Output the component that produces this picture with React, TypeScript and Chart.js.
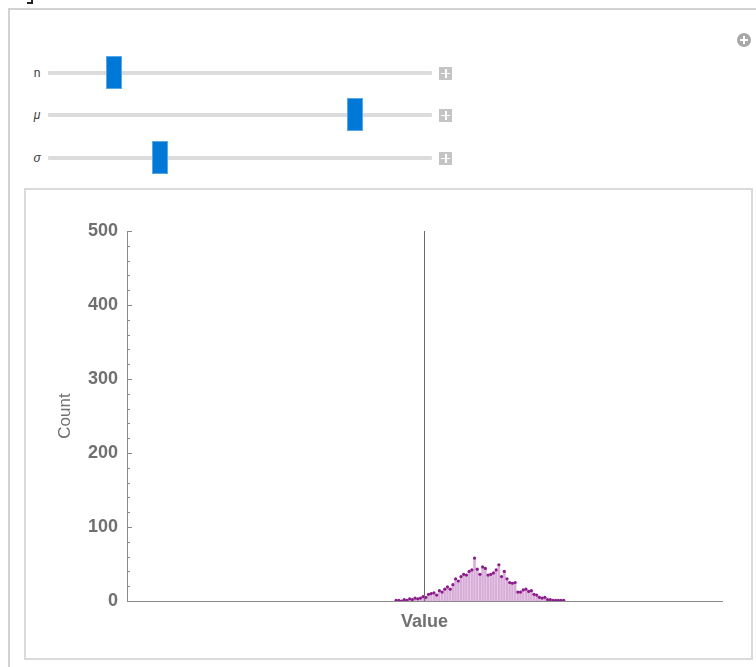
import React, { useEffect, useRef } from "react";
import { Chart, registerables } from "chart.js";

Chart.register(...registerables);

// Histogram bin centers (value axis) and counts
const binCenters: number[] = [
  -1.05, -0.95, -0.85, -0.75, -0.65, -0.55, -0.45, -0.35, -0.25, -0.15,
  -0.05, 0.05, 0.15, 0.25, 0.35, 0.45, 0.55, 0.65, 0.75, 0.85,
  0.95, 1.05, 1.15, 1.25, 1.35, 1.45, 1.55, 1.65, 1.75, 1.85,
  1.95, 2.05, 2.15, 2.25, 2.35, 2.45, 2.55, 2.65, 2.75, 2.85,
  2.95, 3.05, 3.15, 3.25, 3.35, 3.45, 3.55, 3.65, 3.75, 3.85,
  3.95, 4.05, 4.15, 4.25, 4.35, 4.45, 4.55, 4.65, 4.75, 4.85,
  4.95, 5.05, 5.15,
];
const binCounts: number[] = [
  1, 1, 0, 2, 1, 3, 2, 4, 3, 4,
  6, 5, 9, 10, 11, 8, 14, 12, 16, 19,
  16, 22, 30, 27, 33, 36, 35, 40, 42, 58,
  43, 36, 46, 44, 35, 36, 38, 42, 49, 33,
  40, 30, 25, 24, 25, 12, 12, 15, 16, 13,
  14, 9, 8, 5, 4, 5, 2, 2, 1, 1,
  1, 1, 1,
];
const yTicks: number[] = [0, 100, 200, 300, 400, 500];
const xRange: number[] = [-10, 10];
const sliderNames: string[] = ["n", "μ", "σ"];
const sliderPositions: number[] = [0.159, 0.811, 0.284];

const GRAY_TEXT = "#707070";
const AXIS = "#8a8a8a";

const inwardTicks = {
  id: "inwardTicks",
  afterDraw(chart: any) {
    const ys = chart.scales.y;
    const ctx = chart.ctx;
    const left = chart.chartArea.left;
    ctx.save();
    ctx.strokeStyle = AXIS;
    ctx.lineWidth = 1;
    for (let v = 0; v <= 500; v += 20) {
      const y = Math.round(ys.getPixelForValue(v)) + 0.5;
      const len = v % 100 === 0 ? 5 : 3;
      ctx.beginPath();
      ctx.moveTo(left, y);
      ctx.lineTo(left + len, y);
      ctx.stroke();
    }
    ctx.restore();
  },
};

function HistChart() {
  const ref = useRef<HTMLCanvasElement | null>(null);
  useEffect(() => {
    if (!ref.current) return;
    const pts = binCenters.map((x, i) => ({ x, y: binCounts[i] }));
    const chart = new Chart(ref.current, {
      type: "bar",
      data: {
        datasets: [
          {
            type: "line",
            data: [
              { x: 0, y: yTicks[0] },
              { x: 0, y: yTicks[yTicks.length - 1] },
            ],
            borderColor: "#6a6a6a",
            borderWidth: 1,
            pointRadius: 0,
            order: 0,
          } as any,
          {
            type: "line",
            data: pts,
            showLine: false,
            pointRadius: 1.6,
            pointBackgroundColor: "#8b1a8b",
            pointBorderWidth: 0,
            order: 1,
          } as any,
          {
            type: "bar",
            data: pts,
            backgroundColor: "#d8aed8",
            borderColor: "#ead2ea",
            borderWidth: 0.6,
            barPercentage: 1,
            categoryPercentage: 1,
            order: 2,
          } as any,
        ],
      },
      options: {
        animation: false,
        responsive: false,
        devicePixelRatio: 1,
        layout: { padding: { left: 0, top: 41, right: 28, bottom: 0 } },
        plugins: {
          legend: { display: false },
          tooltip: { enabled: false },
        },
        scales: {
          x: {
            type: "linear",
            min: xRange[0],
            max: xRange[1],
            grid: { display: false, drawTicks: false },
            ticks: { display: false },
            border: { display: true, color: AXIS, width: 1 },
            title: {
              display: true,
              text: "Value",
              color: GRAY_TEXT,
              font: { family: "'Liberation Sans', Arial, sans-serif", size: 18, weight: "bold" },
              padding: { top: 0, bottom: 24 },
            },
            afterFit: (s: any) => {
              s.height = 56;
            },
          },
          y: {
            min: 0,
            max: 500,
            grid: { display: false, drawTicks: false },
            border: { display: true, color: AXIS, width: 1 },
            ticks: {
              stepSize: 100,
              padding: 9,
              color: GRAY_TEXT,
              font: { family: "'Liberation Sans', Arial, sans-serif", size: 18, weight: "bold" },
            },
            title: {
              display: true,
              text: "Count",
              color: GRAY_TEXT,
              font: { family: "'Liberation Sans', Arial, sans-serif", size: 17 },
              padding: { top: 30, bottom: 0 },
            },
            afterFit: (s: any) => {
              s.width = 102;
            },
          },
        },
      } as any,
      plugins: [inwardTicks],
    });
    return () => chart.destroy();
  }, []);
  return (
    <canvas
      ref={ref}
      width={725}
      height={467}
      style={{ position: "absolute", left: 25, top: 190, width: 725, height: 467 }}
    />
  );
}

function Slider({ label, pos, top }: { label: string; pos: number; top: number }) {
  const trackLeft = 48;
  const trackWidth = 384;
  const thumbW = 14;
  const thumbLeft = trackLeft + pos * (trackWidth - thumbW);
  const italic = label !== "n";
  return (
    <div style={{ position: "absolute", left: 0, top: 0 }}>
      <div
        style={{
          position: "absolute",
          left: 30,
          top: top - 9,
          width: 14,
          height: 18,
          lineHeight: "18px",
          textAlign: "center",
          fontFamily: "'Liberation Sans', Arial, sans-serif",
          fontSize: 12,
          fontStyle: italic ? "italic" : "normal",
          color: "#3a3a3a",
        }}
      >
        {label}
      </div>
      <div
        style={{
          position: "absolute",
          left: trackLeft,
          top: top - 2,
          width: trackWidth,
          height: 4,
          background: "#dcdcdc",
          borderRadius: 1,
        }}
      />
      <div
        style={{
          position: "absolute",
          left: thumbLeft,
          top: top - 16,
          width: thumbW,
          height: 31,
          background: "#0078d7",
          boxShadow: "0 0 0 1px #5aa7e6",
        }}
      />
      <div
        style={{
          position: "absolute",
          left: 439,
          top: top - 6,
          width: 13,
          height: 13,
          background: "#c4c4c4",
        }}
      >
        <div style={{ position: "absolute", left: 6, top: 2, width: 1.5, height: 9, background: "#fff" }} />
        <div style={{ position: "absolute", left: 2, top: 5.5, width: 9, height: 1.5, background: "#fff" }} />
      </div>
    </div>
  );
}

export default function App() {
  useEffect(() => {
    document.body.style.margin = "0";
    document.body.style.background = "#fff";
  }, []);
  const sliderTops = [73, 115, 158];
  return (
    <div style={{ position: "relative", width: 756, height: 667, overflow: "hidden", background: "#fff" }}>
      <div
        style={{
          position: "absolute",
          left: 27,
          top: -2,
          width: 4,
          height: 4,
          borderRight: "2px solid #222",
          borderBottom: "2px solid #222",
        }}
      />
      <div
        style={{
          position: "absolute",
          left: 8,
          top: 8,
          width: 820,
          height: 720,
          border: "2px solid #d2d2d2",
          boxSizing: "border-box",
        }}
      />
      <div
        style={{
          position: "absolute",
          left: 737,
          top: 33,
          width: 14,
          height: 14,
          borderRadius: "50%",
          background: "#a8a8a8",
        }}
      >
        <div style={{ position: "absolute", left: 6, top: 3, width: 2, height: 8, background: "#fff" }} />
        <div style={{ position: "absolute", left: 3, top: 6, width: 8, height: 2, background: "#fff" }} />
      </div>
      {sliderNames.map((n, i) => (
        <Slider key={n} label={n} pos={sliderPositions[i]} top={sliderTops[i]} />
      ))}
      <div
        style={{
          position: "absolute",
          left: 24,
          top: 188,
          width: 729,
          height: 472,
          border: "2px solid #dadada",
          boxSizing: "border-box",
          background: "#fff",
        }}
      />
      <HistChart />
    </div>
  );
}
